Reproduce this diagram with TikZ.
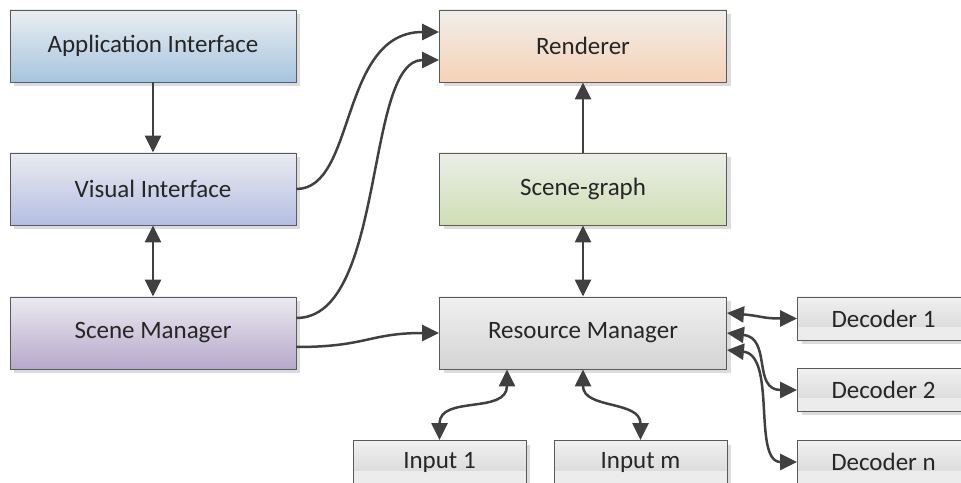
\documentclass[tikz,border=0pt]{standalone}
\usepackage{fontspec}
\setmainfont{Carlito}
\usetikzlibrary{arrows.meta,shadows}

\definecolor{linegray}{HTML}{404040}
\definecolor{bordergray}{HTML}{5A5A5A}
\definecolor{shadowgray}{HTML}{DCDCDC}
\definecolor{stripgray}{HTML}{ECECEC}

\begin{document}
\begin{tikzpicture}[x=1pt, y=1pt,
  block/.style={draw=bordergray, line width=0.9pt, minimum width=286pt, minimum height=72pt,
    drop shadow={shadow xshift=4pt, shadow yshift=-4pt, fill=shadowgray, opacity=1},
    font=\fontsize{25}{30}\selectfont, text=black!85},
  small/.style={block, minimum width=172pt, minimum height=43pt,
    top color={rgb,255:red,240;green,240;blue,240}, bottom color={rgb,255:red,212;green,212;blue,212},
    path picture={\fill[stripgray] (path picture bounding box.south west)
      rectangle ([yshift=13pt]path picture bounding box.south east);}},
  link/.style={draw=linegray, line width=2.5pt, -{Triangle[length=17pt,width=16pt]}},
  both/.style={link, {Triangle[length=17pt,width=16pt]}-{Triangle[length=17pt,width=16pt]}}
]
\useasboundingbox (0,0) rectangle (961,482);
\clip (0,0) rectangle (961,482);

\node[block, top color={rgb,255:red,234;green,238;blue,242}, bottom color={rgb,255:red,166;green,196;blue,222}] (app) at (153,436) {Application Interface};
\node[block, top color={rgb,255:red,234;green,235;blue,240}, bottom color={rgb,255:red,180;green,190;blue,226}] (vis) at (153,293) {Visual Interface};
\node[block, top color={rgb,255:red,236;green,234;blue,240}, bottom color={rgb,255:red,182;green,168;blue,204}] (scm) at (153,149) {Scene Manager};
\node[block, minimum width=287pt, top color={rgb,255:red,240;green,238;blue,234}, bottom color={rgb,255:red,246;green,210;blue,182}] (ren) at (583,436) {Renderer};
\node[block, minimum width=287pt, top color={rgb,255:red,236;green,238;blue,232}, bottom color={rgb,255:red,206;green,222;blue,180}] (sg) at (583,293) {Scene-graph};
\node[block, minimum width=287pt, top color={rgb,255:red,240;green,240;blue,240}, bottom color={rgb,255:red,212;green,212;blue,212}] (res) at (583,149) {Resource Manager};

\node[small] (dec1) at (883.5,163.5) {Decoder 1};
\node[small] (dec2) at (883.5,92) {Decoder 2};
\node[small] (decn) at (883.5,20) {Decoder n};
\node[small, minimum width=173pt] (in1) at (439.5,20) {Input 1};
\node[small, minimum width=173pt] (inm) at (640.5,20) {Input m};

\draw[link] (app) -- (vis);
\draw[both] (vis) -- (scm);
\draw[link] (sg) -- (ren);
\draw[both] (res) -- (sg);

\draw[link] (vis.east) .. controls +(60,0) and +(-100,0) .. ([yshift=14pt]ren.west);
\draw[link] ([yshift=15pt]scm.east) .. controls +(90,0) and +(-75,0) .. ([yshift=-14pt]ren.west);
\draw[link] ([yshift=-14pt]scm.east) .. controls +(70,0) and +(-70,0) .. (res.west);

\draw[both] ([yshift=20pt]res.east) .. controls +(35,-3) and +(-35,0) .. (dec1.west);
\draw[both] (res.east) .. controls +(45,-5) and +(-45,0) .. (dec2.west);
\draw[both] ([yshift=-17pt]res.east) .. controls +(50,-5) and +(-45,0) .. (decn.west);

\draw[both] ([xshift=-76pt]res.south) .. controls +(0,-45) and +(0,45) .. (in1.north);
\draw[both] (res.south) .. controls +(0,-40) and +(0,40) .. (inm.north);
\end{tikzpicture}
\end{document}
